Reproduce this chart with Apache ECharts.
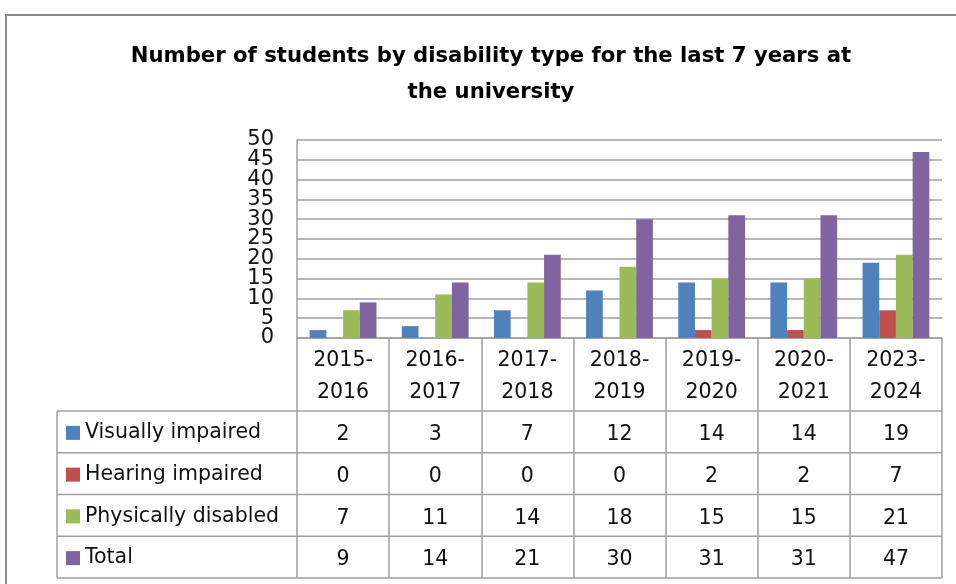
<!DOCTYPE html>
<html><head><meta charset="utf-8">
<script src="https://cdn.jsdelivr.net/npm/echarts@6/dist/echarts.min.js"></script>
<style>html,body{margin:0;padding:0;background:#fff}#c{width:956px;height:584px}</style>
</head><body><div id="c"></div>
<script>
// ---- data ----
const categories = ['2015-2016','2016-2017','2017-2018','2018-2019','2019-2020','2020-2021','2023-2024'];
const seriesNames = ['Visually impaired','Hearing impaired','Physically disabled','Total'];
const visuallyImpaired = [2,3,7,12,14,14,19];
const hearingImpaired = [0,0,0,0,2,2,7];
const physicallyDisabled = [7,11,14,18,15,15,21];
const total = [9,14,21,30,31,31,47];
const yMin = 0, yMax = 50, yStep = 5;
const titleText = 'Number of students by disability type for the last 7 years at\nthe university';

// ---- layout / style ----
const colors = ['#4F81BD','#C0504D','#9BBB59','#8064A2'];
const seriesValues = [visuallyImpaired, hearingImpaired, physicallyDisabled, total];
const gridL = 297, gridT = 140, gridR = 942, axisY = 338;
const rowTop = 411, rowH = 41.75, nRows = 4;
const tableBottom = rowTop + rowH * nRows;
const tableLeft = 57;
const lineCol = '#A0A0A0';
const font = 'DejaVu Sans';
const tfs = 20.5;

const xAxes = [{
  type: 'category', data: categories, gridIndex: 0, position: 'bottom',
  axisLine: { show: true, lineStyle: { color: lineCol, width: 1.5 } },
  axisTick: { show: true, interval: 0, length: tableBottom - axisY, lineStyle: { color: lineCol, width: 1.5 } },
  axisLabel: { interval: 0, formatter: v => v.replace('-', '-\n'), fontFamily: font, fontSize: tfs,
    lineHeight: 31.7, color: '#111', margin: 7 },
  splitLine: { show: false }
}];
seriesValues.forEach((arr, i) => {
  xAxes.push({
    type: 'category', data: categories, gridIndex: 0, position: 'bottom',
    offset: rowTop + rowH * (i + 0.5) - axisY + 3,
    axisLine: { show: false }, axisTick: { show: false }, splitLine: { show: false },
    axisLabel: { interval: 0, margin: 0, verticalAlign: 'middle', formatter: (v, idx) => String(arr[idx]),
      fontFamily: font, fontSize: tfs, color: '#111' }
  });
});

const graphics = [
  { type: 'rect', z: -10, shape: { x: 6, y: 15, width: 1000, height: 700 },
    style: { fill: 'none', stroke: '#8a8a8a', lineWidth: 2 } },
  { type: 'line', shape: { x1: tableLeft, y1: rowTop, x2: tableLeft, y2: tableBottom },
    style: { stroke: lineCol, lineWidth: 1.5 } }
];
for (let r = 0; r <= nRows; r++) {
  const y = rowTop + rowH * r;
  graphics.push({ type: 'line', shape: { x1: tableLeft, y1: y, x2: gridR, y2: y },
    style: { stroke: lineCol, lineWidth: 1.5 } });
}

// two overlaid value axes (same scale) carry alternating tick labels, so that all labels stay visible
const yLabelStyle = { fontFamily: font, fontSize: 21, color: '#111', margin: 23,
  showMaxLabel: true, showMinLabel: true };
const yAxes = [
  {
    type: 'value', min: yMin, max: yMax, interval: yStep, position: 'left',
    axisLine: { show: true, lineStyle: { color: lineCol, width: 1.5 } },
    axisTick: { show: false },
    splitLine: { lineStyle: { color: lineCol, width: 1.5 } },
    axisLabel: Object.assign({}, yLabelStyle, { formatter: v => (v / yStep) % 2 === 0 ? String(v) : '' })
  },
  {
    type: 'value', min: yMin, max: yMax, interval: yStep, position: 'left', offset: 0,
    axisLine: { show: false }, axisTick: { show: false }, splitLine: { show: false },
    axisLabel: Object.assign({}, yLabelStyle, { formatter: v => (v / yStep) % 2 === 1 ? String(v) : '' })
  }
];

const option = {
  animation: false,
  backgroundColor: '#fff',
  color: colors,
  title: {
    text: titleText, left: 491, top: 38, padding: 0, textAlign: 'center',
    textStyle: { fontFamily: 'DejaVu Sans', fontWeight: 'bold',
      fontSize: 21.2, lineHeight: 36, color: '#000' }
  },
  legend: {
    orient: 'vertical', left: 61, top: rowTop + rowH / 2 - 16,
    itemWidth: 14, itemHeight: 14, itemGap: rowH - 24, icon: 'rect',
    data: seriesNames, selectedMode: false,
    textStyle: { fontFamily: font, fontSize: tfs, lineHeight: 24, color: '#111' }
  },
  grid: { left: gridL, top: gridT, right: 956 - gridR, bottom: 584 - axisY, containLabel: false },
  xAxis: xAxes,
  yAxis: yAxes,
  graphic: graphics,
  series: seriesNames.map((name, i) => ({
    name, type: 'bar', data: seriesValues[i], xAxisIndex: 0, yAxisIndex: 0,
    barGap: '0%', barCategoryGap: '27.5%',
    itemStyle: { color: colors[i] }
  }))
};
const chart = echarts.init(document.getElementById('c'), null, { renderer: 'canvas' });
chart.setOption(option);
</script></body></html>
